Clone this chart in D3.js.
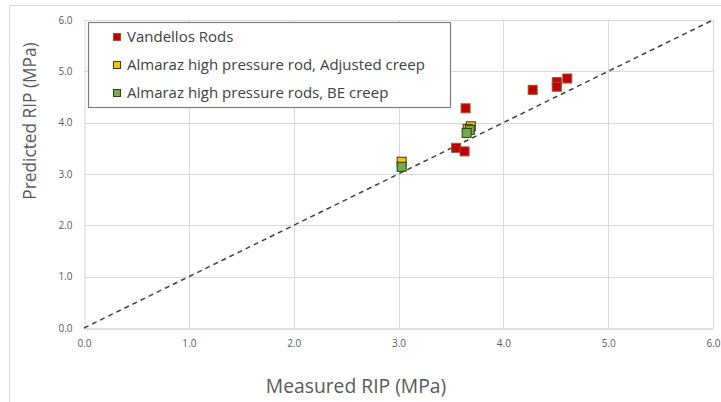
<!DOCTYPE html>
<html><head><meta charset="utf-8">
<script src="https://cdn.jsdelivr.net/npm/d3@7"></script>
<style>body{margin:0;background:#fff}svg{display:block}</style>
</head><body>
<svg id="c" width="721" height="402"></svg>
<script>
const seriesNames = ["Vandellos Rods","Almaraz high pressure rod, Adjusted creep","Almaraz high pressure rods, BE creep"];
const seriesColors = ["#c00000","#ffc000","#70ad47"];
const seriesStroke = ["#a0522d","#3a3a3a","#2f3a22"];
const vandellosX = [3.64,3.55,3.63,4.28,4.51,4.51,4.61];
const vandellosY = [4.28,3.51,3.44,4.64,4.79,4.70,4.86];
const adjustedX = [3.03,3.69,3.66];
const adjustedY = [3.24,3.93,3.88];
const beX = [3.03,3.68,3.65];
const beY = [3.14,3.86,3.80];
const xTicks = [0,1,2,3,4,5,6];
const yTicks = [0,1,2,3,4,5,6];
const xTitle = "Measured RIP (MPa)";
const yTitle = "Predicted RIP  (MPa)";

const svg = d3.select("#c");
const font = "'Open Sans', sans-serif";
svg.append("rect").attr("x",9.5).attr("y",5.5).attr("width",730).attr("height",420)
  .attr("fill","none").attr("stroke","#d9d9d9");

const x = d3.scaleLinear().domain([0,6]).range([84,713]);
const y = d3.scaleLinear().domain([0,6]).range([328,20]);

// grid
svg.append("g").selectAll("line").data(xTicks.slice(1)).join("line")
  .attr("x1",d=>Math.round(x(d))+0.5).attr("x2",d=>Math.round(x(d))+0.5)
  .attr("y1",y(6)).attr("y2",y(0)).attr("stroke","#d9d9d9");
svg.append("g").selectAll("line").data(yTicks.slice(1)).join("line")
  .attr("y1",d=>Math.round(y(d))+0.5).attr("y2",d=>Math.round(y(d))+0.5)
  .attr("x1",x(0)).attr("x2",x(6)).attr("stroke","#d9d9d9");

// axes
const xAxis = svg.append("g").attr("transform",`translate(0,${Math.round(y(0))+0.5})`)
  .call(d3.axisBottom(x).tickValues(xTicks).tickFormat(d3.format(".1f")).tickSize(0).tickPadding(11));
const yAxis = svg.append("g").attr("transform",`translate(${Math.round(x(0))+0.5},0)`)
  .call(d3.axisLeft(y).tickValues(yTicks).tickFormat(d3.format(".1f")).tickSize(0).tickPadding(12));
[xAxis,yAxis].forEach(a=>{
  a.select(".domain").attr("stroke","#bfbfbf");
  a.selectAll("text").attr("fill","#595959").style("font-family",font).style("font-size","10px");
});
yAxis.select(".domain").attr("stroke","#d9d9d9");

// 1:1 line
svg.append("line").attr("x1",x(0)).attr("y1",y(0)).attr("x2",x(6)).attr("y2",y(6))
  .attr("stroke","#404040").attr("stroke-width",1.5).attr("stroke-dasharray","5,4");

// points
const series = [
  {xs:vandellosX, ys:vandellosY},
  {xs:adjustedX, ys:adjustedY},
  {xs:beX, ys:beY}
];
const s = 9;
series.forEach((ser,i)=>{
  svg.append("g").selectAll("rect").data(ser.xs.map((v,j)=>[v,ser.ys[j]])).join("rect")
    .attr("x",d=>x(d[0])-s/2).attr("y",d=>y(d[1])-s/2).attr("width",s).attr("height",s)
    .attr("fill",seriesColors[i]).attr("stroke",seriesStroke[i]).attr("stroke-width",1);
});

// legend
const lg = svg.append("g");
lg.append("rect").attr("x",88.5).attr("y",22.5).attr("width",362).attr("height",85)
  .attr("fill","#fff").attr("stroke","#7f7f7f").attr("stroke-width",1.2);
const ly = [37,65,93];
seriesNames.forEach((n,i)=>{
  lg.append("rect").attr("x",113.5).attr("y",ly[i]-3.5).attr("width",7).attr("height",7)
    .attr("fill",seriesColors[i]).attr("stroke",seriesStroke[i]);
  lg.append("text").attr("x",127).attr("y",ly[i]).attr("dy","0.35em")
    .attr("fill","#404040").style("font-family",font).style("font-size","15px").text(n);
});

// titles
svg.append("text").attr("x",356).attr("y",386).attr("text-anchor","middle").attr("dy","0.35em")
  .attr("fill","#595959").style("font-family",font).style("font-size","19.3px").text(xTitle);
svg.append("text").attr("transform","translate(30,121) rotate(-90)").attr("text-anchor","middle").attr("dy","0.35em")
  .attr("fill","#595959").style("font-family",font).style("font-size","17.3px").text(yTitle);
</script>
</body></html>
